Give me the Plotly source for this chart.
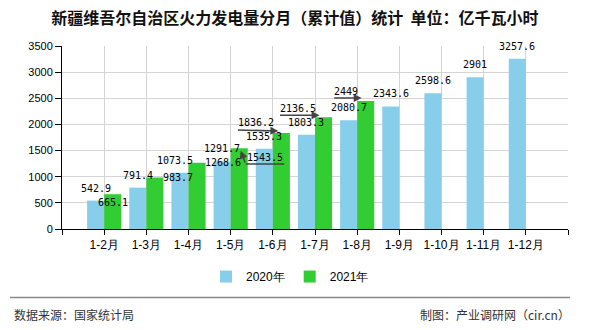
import plotly.graph_objects as go

months = ["1-2月", "1-3月", "1-4月", "1-5月", "1-6月", "1-7月", "1-8月",
          "1-9月", "1-10月", "1-11月", "1-12月"]
v2020 = [542.9, 791.4, 1073.5, 1291.7, 1535.3, 1803.3, 2080.7,
         2343.6, 2598.6, 2901, 3257.6]
v2021 = [665.1, 983.7, 1268.6, 1543.5, 1836.2, 2136.5, 2449,
         None, None, None, None]
names = ["2020年", "2021年"]
colors = ["#87CEEB", "#32CD32"]

title = "新疆维吾尔自治区火力发电量分月（累计值）统计  单位：亿千瓦小时"
source = "数据来源：国家统计局"
maker = "制图：产业调研网（cir.cn）"

xpos = list(range(len(months)))
BARGAP = 0.19
half = (1 - BARGAP) / 4  # centre offset of each bar in a group

fig = go.Figure()
for vals, nm, col in [(v2020, names[0], colors[0]), (v2021, names[1], colors[1])]:
    fig.add_trace(go.Bar(x=xpos, y=vals, name=nm, marker=dict(color=col, line=dict(width=0))))

# label offsets (dx, dy) in pixels relative to bar top centre (dy>0 = down)
off2020 = {2: (-5, -12)}
off2021 = {0: (0, 8.6), 1: (23, 0), 2: (26, 0), 3: (26, 9),
           4: (-25.5, -10), 5: (-26, -9), 6: (-20, -9)}
# leader segments: (idx, tail(dx,dy), head(dx,dy), arrowhead)
leaders = [
    (3, (46.5, 15.7), (6.5, 15.7), 0),
    (3, (6.5, 15.7), (1.5, 2.4), 2),
    (4, (-45, -3), (-3, -2), 2),
    (5, (-45, -2), (-4, -2), 2),
    (6, (-33, -3), (-4, -3), 2),
]

lab_font = dict(family="DejaVu Sans Mono", size=10, color="#000")
ann = []
for i, v in enumerate(v2020):
    dx, dy = off2020.get(i, (0, -12.5))
    ann.append(dict(x=i - half, y=v, xref="x", yref="y", text=f"{v:g}",
                    showarrow=False, xshift=dx, yshift=-dy, font=lab_font))
for i, v in enumerate(v2021):
    if v is None:
        continue
    dx, dy = off2021.get(i, (0, -12.5))
    ann.append(dict(x=i + half, y=v, xref="x", yref="y", text=f"{v:g}",
                    showarrow=False, xshift=dx, yshift=-dy, font=lab_font))
for i, tail, head, ah in leaders:
    ann.append(dict(x=i + half, y=v2021[i], xref="x", yref="y", text="",
                    showarrow=True, arrowhead=ah, arrowsize=1, arrowwidth=1.6,
                    arrowcolor="#444", xshift=head[0], yshift=-head[1],
                    ax=tail[0] - head[0], ay=tail[1] - head[1], standoff=0, startstandoff=0))

foot_font = dict(family="Noto Sans CJK SC", size=12, color="#333")
ann.append(dict(x=(12 - 62) / 506, y=(229.3 - 315) / 183.6, xref="paper", yref="paper",
                text=source, showarrow=False, xanchor="left", yanchor="middle", font=foot_font))
ann.append(dict(x=(572 - 62) / 506, y=(229.3 - 315) / 183.6, xref="paper", yref="paper",
                text=maker, showarrow=False, xanchor="right", yanchor="middle", font=foot_font))

fig.update_layout(
    width=590, height=330,
    margin=dict(l=62, r=22, t=46, b=101, pad=0),
    paper_bgcolor="white", plot_bgcolor="white",
    barmode="group", bargap=BARGAP, bargroupgap=0,
    title=dict(text=title, x=0.5, xanchor="center", y=1 - 18 / 330, yanchor="middle",
               font=dict(family="Noto Sans CJK SC", size=16, color="#111", weight="bold")),
    xaxis=dict(range=[-1, len(months)], tickmode="array",
               tickvals=list(range(-1, len(months) + 1)),
               ticktext=[""] + months + [""],
               showgrid=True, gridcolor="#d4d4d4", gridwidth=1,
               showline=True, linecolor="#000", linewidth=1,
               ticks="outside", ticklen=5, tickcolor="#000",
               tickfont=dict(family="Liberation Sans", size=12, color="#000"),
               zeroline=False),
    yaxis=dict(range=[0, 3500], dtick=500, showgrid=True, gridcolor="#d4d4d4",
               gridwidth=1, showline=True, linecolor="#000", linewidth=1,
               ticks="outside", ticklen=6, tickcolor="#000",
               tickfont=dict(family="Liberation Sans", size=11, color="#000"),
               zeroline=False),
    legend=dict(orientation="h", x=(290 - 62) / 506, xanchor="center",
                y=(229.3 - 277) / 183.6, yanchor="middle",
                font=dict(family="Liberation Sans", size=12, color="#000"),
                itemwidth=30),
    annotations=ann,
    shapes=[dict(type="line", xref="paper", yref="paper",
                 x0=(10 - 62) / 506, x1=(570 - 62) / 506,
                 y0=(229.3 - 298) / 183.6, y1=(229.3 - 298) / 183.6,
                 line=dict(color="#888", width=1.5))],
)

fig.write_html("out.html")
